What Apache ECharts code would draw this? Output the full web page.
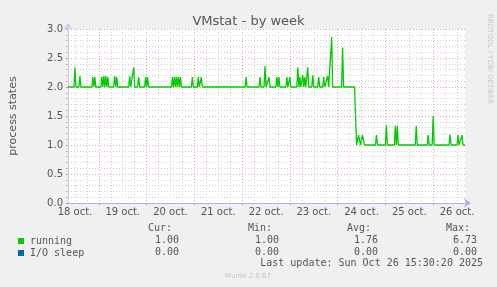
<!DOCTYPE html>
<html>
<head>
<meta charset="utf-8">
<script src="https://cdn.jsdelivr.net/npm/echarts@6/dist/echarts.min.js"></script>
<style>
  html, body { margin: 0; padding: 0; background: #f0f0f0; }
  #chart { width: 497px; height: 287px; }
</style>
</head>
<body>
<div id="chart"></div>
<script>
// ---- data ----
const titleText = 'VMstat - by week';
const yAxisName = 'process states';
const seriesNames = ['running', 'I/O sleep'];
const seriesColors = ['#00cc00', '#0066b3'];
const statHeaders = ['Cur:', 'Min:', 'Avg:', 'Max:'];
const runningStats = ['1.00', '1.00', '1.76', '6.73'];
const sleepStats = ['0.00', '0.00', '0.00', '0.00'];
const lastUpdate = 'Last update: Sun Oct 26 15:30:20 2025';
const versionText = 'Munin 2.0.67';
const yTicks = [0, 0.5, 1, 1.5, 2, 2.5, 3];
const monthLabel = 'oct.';
const firstDay = 18;
const startHour = 8.5;      // first sample: 18 oct 08:30
const slotHours = 0.5;      // 30-minute samples
const slotCount = 400;

// [sample index, value] pairs (flat stretches only need their end points)
const running = [
  [0,2],
  [6,2],[7,2.34],[8,2],
  [11,2],[12,2.19],[13,2],
  [24,2],[25,2.17],[26,2],[27,2.17],[28,2],
  [33,2],[34,2.17],[35,2],[36,2.19],[37,2],[38,2.19],[39,2],[40,2.17],[41,2],
  [46,2],[47,2.19],[48,2],[49,2.17],[50,2],
  [61,2],[62,2.19],[63,2],
  [65,2],[66,2.34],[67,2],
  [70,2],[71,2.17],[72,2],
  [77,2],[78,2.17],[79,2],[80,2.17],[81,2],
  [104,2],[105,2.17],[106,2],[107,2.17],[108,2],[109,2.17],[110,2],[111,2.17],[112,2],[113,2.17],[114,2],
  [124,2],[125,2.17],[126,2],
  [130,2],[131,2.17],[132,2],[133,2],[134,2.17],[135,2],
  [178,2],[179,2.17],[180,2],
  [192,2],[193,2.17],[194,2],
  [197,2],[198,2.36],[199,2],
  [201,2],[202,2.17],[203,2],
  [209,2],[210,2.17],[211,2],[212,2.17],[213,2],
  [219,2],[220,2.17],[221,2],[222,2],[223,2.17],[224,2],
  [230,2],[231,2.34],[232,2],[233,2.17],[234,2],[235,2],[236,2.2],[237,2],[238,2.17],[239,2],[240,2],[241,2.34],[242,2],
  [245,2],[246,2.2],[247,2],
  [251,2],[252,2.17],[253,2],
  [256,2],[257,2.17],[258,2],
  [260,2],[261,2.19],[262,2],
  [264,2],[265,2.86],[266,2],
  [275,2],[276,2.68],[277,2],
  [288,2],[290,1],[292,1.17],[294,1],[296,1.17],[298,1],
  [309,1],[310,1.17],[311,1],
  [319,1],[320,1.34],[321,1],
  [328,1],[329,1.33],[330,1],[331,1.33],[332,1],
  [349,1],[350,1.33],[351,1],
  [361,1],[362,1.17],[363,1],
  [366,1],[367,1.5],[368,1],
  [383,1],[384,1.18],[385,1],
  [391,1],[392,1.17],[393,1],
  [395,1],[396,1.17],[397,1],
  [399,1]
];
const sleep = [[0,0],[399,0]];

// ---- categories (30-min sample times) ----
const hourOf = i => startHour + i * slotHours;
const categories = [];
for (let i = 0; i < slotCount; i++) {
  const t = hourOf(i);
  const day = firstDay + Math.floor(t / 24);
  const h = t % 24;
  categories.push(day + ' ' + monthLabel + ' ' + String(Math.floor(h)).padStart(2,'0') + ':' + (h % 1 ? '30' : '00'));
}
const isMidnight = i => hourOf(i) % 24 === 0;
const isNoon = i => hourOf(i) % 24 === 12;
const isSixHour = i => hourOf(i) % 6 === 0 && !isMidnight(i);

const FONT = 'DejaVu Sans';
const MONO = 'DejaVu Sans Mono';
const RED = '#e9a3a3';
const GRAY = '#d0d0d0';
const AXIS = '#a9b4e6';

const chart = echarts.init(document.getElementById('chart'), null, { renderer: 'canvas' });

const colX = [172, 272, 371, 470];
const valX = [179, 279, 378, 477];
const graphics = [];
statHeaders.forEach((h, k) => {
  graphics.push({ type: 'text', x: colX[k], y: 228, style: { text: h, font: '10px ' + MONO, fill: '#555', textAlign: 'right', textVerticalAlign: 'middle' } });
  graphics.push({ type: 'text', x: valX[k], y: 240, style: { text: runningStats[k], font: '10px ' + MONO, fill: '#555', textAlign: 'right', textVerticalAlign: 'middle' } });
  graphics.push({ type: 'text', x: valX[k], y: 252, style: { text: sleepStats[k], font: '10px ' + MONO, fill: '#555', textAlign: 'right', textVerticalAlign: 'middle' } });
});
graphics.push({ type: 'text', x: 483, y: 263, style: { text: lastUpdate, font: '10px ' + MONO, fill: '#555', textAlign: 'right', textVerticalAlign: 'middle' } });
graphics.push({ type: 'text', x: 248, y: 276, style: { text: versionText, font: '7px ' + FONT, fill: '#c4c4c4', textAlign: 'center', textVerticalAlign: 'middle' } });
graphics.push({ type: 'text', x: 490, y: 14, rotation: -Math.PI / 2, style: { text: 'RRDTOOL / TOBI OETIKER', font: '7px ' + FONT, fill: '#c8c8c8', textAlign: 'left', textVerticalAlign: 'middle' } });

const option = {
  backgroundColor: '#f0f0f0',
  animation: false,
  title: {
    text: titleText, left: 'center', top: 10,
    textStyle: { fontFamily: FONT, fontSize: 13, fontWeight: 'normal', color: '#555' }
  },
  grid: { left: 66, top: 29, width: 399, height: 174, show: true, backgroundColor: '#ffffff', borderWidth: 0 },
  legend: {
    data: seriesNames, orient: 'vertical', left: 13, top: 230,
    itemWidth: 6, itemHeight: 6, itemGap: 0, icon: 'rect',
    textStyle: { fontFamily: MONO, fontSize: 10, color: '#555', lineHeight: 12, padding: [0,0,0,1] }
  },
  xAxis: [
    {
      type: 'category', data: categories, boundaryGap: false,
      axisLine: { show: true, lineStyle: { color: AXIS, width: 1 }, symbol: ['none', 'arrow'], symbolSize: [7, 7], symbolOffset: [0, 6] },
      axisTick: { show: true, interval: isMidnight, length: 2, lineStyle: { color: '#e88' } },
      axisLabel: { interval: isNoon, formatter: v => v.split(' ').slice(0, 2).join(' '), fontFamily: FONT, fontSize: 10, color: '#555', margin: 4 },
      splitLine: { show: true, interval: isMidnight, lineStyle: { color: RED, type: [1, 2], width: 1 } }
    },
    {
      type: 'category', data: categories, boundaryGap: false, position: 'bottom',
      axisLine: { show: false }, axisTick: { show: false }, axisLabel: { show: false },
      splitLine: { show: true, interval: isSixHour, lineStyle: { color: GRAY, type: [1, 2], width: 1 } }
    }
  ],
  yAxis: {
    type: 'value', min: yTicks[0], max: yTicks[yTicks.length - 1], interval: yTicks[1] - yTicks[0],
    name: yAxisName, nameLocation: 'middle', nameRotate: 90, nameGap: 49,
    nameTextStyle: { fontFamily: FONT, fontSize: 11, color: '#555' },
    axisLine: { show: true, lineStyle: { color: '#c6cdf0', width: 1 }, symbol: ['none', 'arrow'], symbolSize: [7, 7], symbolOffset: [0, 6] },
    axisTick: { show: true, length: 2, lineStyle: { color: '#e88' } },
    minorTick: { show: true, splitNumber: 5, length: 2, lineStyle: { color: '#bbb' } },
    axisLabel: { formatter: v => v.toFixed(1), fontFamily: FONT, fontSize: 10, color: '#555', margin: 5 },
    splitLine: { show: true, lineStyle: { color: RED, type: [1, 2], width: 1 } },
    minorSplitLine: { show: true, lineStyle: { color: GRAY, type: [1, 2], width: 1 } }
  },
  series: [
    {
      name: seriesNames[0], type: 'line', xAxisIndex: 0, data: running,
      showSymbol: false, symbol: 'none', color: seriesColors[0],
      itemStyle: { color: seriesColors[0] },
      lineStyle: { color: seriesColors[0], width: 1.3 }, z: 3
    },
    {
      name: seriesNames[1], type: 'line', xAxisIndex: 0, data: sleep,
      showSymbol: false, symbol: 'none', color: seriesColors[1],
      itemStyle: { color: seriesColors[1] },
      lineStyle: { color: seriesColors[1], width: 0, opacity: 0 }, z: 1
    }
  ],
  graphic: graphics
};
chart.setOption(option);
</script>
</body>
</html>
